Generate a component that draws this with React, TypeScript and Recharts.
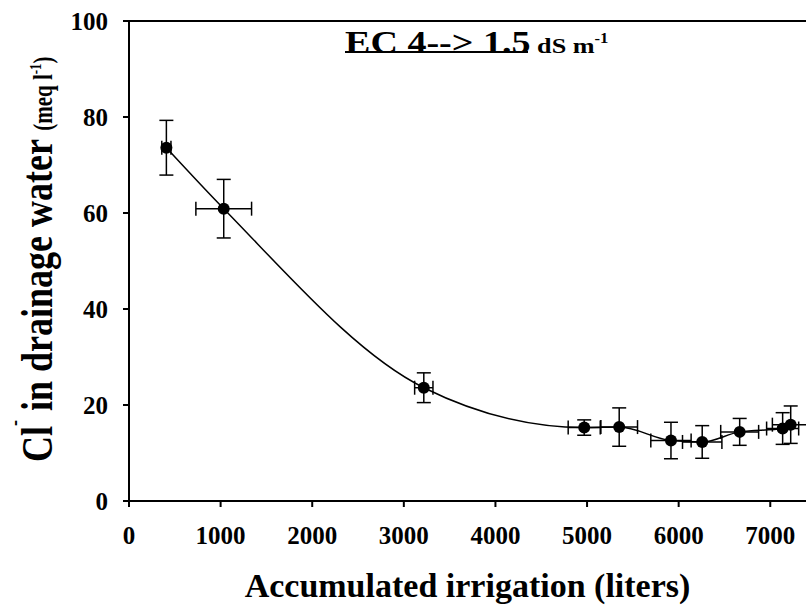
import React from "react";
import { ScatterChart, Scatter, XAxis, YAxis, ErrorBar, ReferenceLine } from "recharts";

// accumulated irrigation (liters) and Cl- in drainage water (meq/l)
const irrigation = [408, 1034, 3218, 4969, 5351, 5916, 6257, 6666, 7135, 7223];
const irrigationErr = [50, 304, 100, 175, 200, 220, 215, 207, 175, 200];
const chloride = [73.6, 60.9, 23.6, 15.3, 15.4, 12.6, 12.3, 14.4, 15.1, 15.9];
const chlorideErr = [5.7, 6.1, 3.1, 1.6, 4.0, 3.8, 3.4, 2.8, 3.3, 3.9];

const xTicks = [0, 1000, 2000, 3000, 4000, 5000, 6000, 7000];
const yTicks = [0, 20, 40, 60, 80, 100];

const points = irrigation.map((x, i) => ({
  x,
  y: chloride[i],
  xErr: irrigationErr[i],
  yErr: chlorideErr[i],
}));

const FONT = '"Liberation Serif", "Times New Roman", serif';
const tickStyle = { fontFamily: FONT, fontWeight: "bold", fontSize: 25, fill: "#000" };

function Dot(props: any) {
  return <circle cx={props.cx} cy={props.cy} r={6} fill="#000" />;
}

function YLabel(props: any) {
  const vb = props.viewBox || { x: 0, y: 0, height: 0 };
  const bx = vb.x + 52;
  const by = vb.y + vb.height - 39;
  return (
    <text
      transform={`translate(${bx}, ${by}) scale(1.25, 1) rotate(-90)`}
      fontFamily={FONT}
      fontWeight="bold"
      fontSize={36}
      fill="#000"
    >
      <tspan>Cl</tspan>
      <tspan fontSize={18} dy={-24}>-</tspan>
      <tspan dy={24}> in drainage water </tspan>
      <tspan fontSize={21}>(meq l</tspan>
      <tspan fontSize={13} dy={-9}>-1</tspan>
      <tspan fontSize={21} dy={9}>)</tspan>
    </text>
  );
}

function XLabel(props: any) {
  const vb = props.viewBox || { x: 0, y: 0, width: 0 };
  return (
    <text
      x={vb.x + vb.width / 2}
      y={vb.y + 96}
      textAnchor="middle"
      fontFamily={FONT}
      fontWeight="bold"
      fontSize={34}
      fill="#000"
    >
      Accumulated irrigation (liters)
    </text>
  );
}

function Title(props: any) {
  const vb = props.viewBox || { x: 0, y: 0 };
  const tx = vb.x + 216;
  const ty = vb.y + 32;
  return (
    <g>
      <text
        transform={`translate(${tx}, ${ty}) scale(1.19, 1)`}
        fontFamily={FONT}
        fontWeight="bold"
        fontSize={32}
        fill="#000"
      >
        <tspan>EC 4--&gt; 1.5</tspan>
        <tspan fontSize={22}> dS m</tspan>
        <tspan fontSize={14} dy={-10}>-1</tspan>
      </text>
      <line x1={tx} x2={tx + 183} y1={ty - 1} y2={ty - 1} stroke="#000" strokeWidth={2} />
    </g>
  );
}

export default function App() {
  return (
    <div style={{ position: "absolute", left: 0, top: 0, width: 806, height: 605, background: "#fff" }}>
      <ScatterChart width={806} height={605} margin={{ top: 21, right: 0, bottom: 0, left: 0 }}>
        <XAxis
          type="number"
          dataKey="x"
          domain={[0, 7390]}
          allowDataOverflow
          ticks={xTicks}
          height={104}
          tickSize={6}
          tickMargin={19}
          tick={tickStyle}
          axisLine={{ stroke: "#000", strokeWidth: 2 }}
          tickLine={{ stroke: "#000", strokeWidth: 2 }}
          label={{ content: XLabel }}
        />
        <YAxis
          type="number"
          dataKey="y"
          domain={[0, 100]}
          allowDataOverflow
          ticks={yTicks}
          width={129}
          tickSize={6}
          tickMargin={15}
          tick={tickStyle}
          axisLine={{ stroke: "#000", strokeWidth: 2 }}
          tickLine={{ stroke: "#000", strokeWidth: 2 }}
          label={{ content: YLabel }}
        />
        <ReferenceLine y={100} stroke="#000" strokeWidth={2} label={{ content: Title }} />
        <Scatter
          data={points}
          fill="#000"
          shape={Dot}
          line={{ stroke: "#000", strokeWidth: 1.5 }}
          lineJointType="monotoneX"
          isAnimationActive={false}
        >
          <ErrorBar dataKey="yErr" direction="y" width={7} stroke="#000" strokeWidth={1.5} />
          <ErrorBar dataKey="xErr" direction="x" width={7} stroke="#000" strokeWidth={1.5} />
        </Scatter>
      </ScatterChart>
    </div>
  );
}
